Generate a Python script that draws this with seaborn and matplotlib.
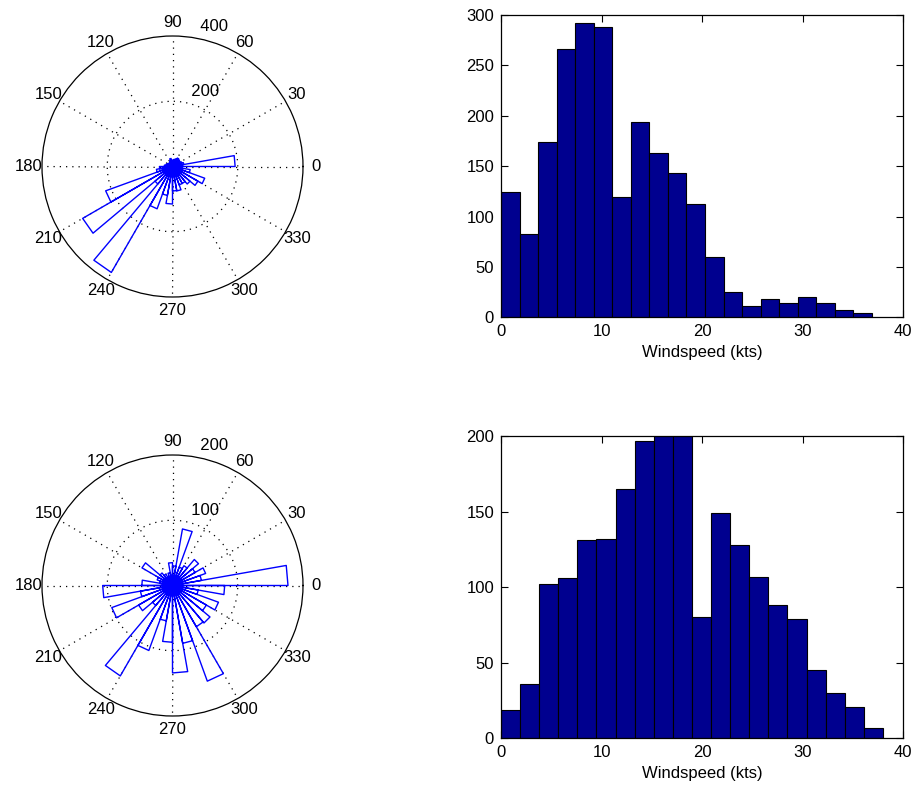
import numpy as np
import pandas as pd
import seaborn as sns
import matplotlib
matplotlib.use('Agg')
import matplotlib.pyplot as plt

sns.set_style('white')
plt.rcParams['font.family'] = ['Liberation Sans', 'DejaVu Sans']
plt.rcParams['font.size'] = 12
plt.rcParams['text.color'] = 'black'
plt.rcParams['axes.labelcolor'] = 'black'
plt.rcParams['xtick.color'] = 'black'
plt.rcParams['ytick.color'] = 'black'

# wind direction counts, 36 bins of 10 degrees starting at 0 (east), counter clockwise
rose_top_counts = [192, 35, 30, 25, 28, 30, 25, 22, 20, 15, 25, 18,
                   15, 12, 15, 18, 20, 25, 40, 50, 218, 318, 70, 375,
                   138, 90, 115, 75, 76, 60, 60, 70, 90, 105, 55, 30]
rose_bot_counts = [177, 45, 54, 40, 52, 35, 30, 88, 30, 35, 20, 15,
                   20, 25, 54, 25, 20, 47, 107, 50, 99, 60, 40, 160,
                   106, 55, 87, 134, 90, 156, 73, 75, 60, 75, 40, 80]
rose_top_rmax = 400
rose_bot_rmax = 200

# windspeed histograms, 20 bins from 0 to the max speed
hist_top_counts = [124, 83, 174, 266, 292, 288, 119, 194, 163, 143,
                   112, 60, 25, 11, 18, 14, 20, 14, 7, 4]
hist_top_max = 36.9
hist_bot_counts = [19, 36, 102, 106, 131, 132, 165, 197, 200, 200,
                   80, 149, 128, 107, 88, 79, 45, 30, 21, 7]
hist_bot_max = 38.0

W, H = 914, 789
fig = plt.figure(figsize=(W / 100, H / 100), dpi=100)


def rose(rect, counts, rmax):
    ax = fig.add_axes(rect, projection='polar')
    ax.set_facecolor('white')
    edges = np.deg2rad(np.arange(0, 361, 10))
    th, rr = [], []
    for i, c in enumerate(counts):
        th += [edges[i], edges[i], edges[i + 1], edges[i + 1]]
        rr += [0, c, c, 0]
    ax.plot(th, rr, color='blue', lw=1.0)
    ax.set_ylim(0, rmax)
    ax.set_thetagrids(np.arange(0, 360, 30), labels=[])
    ax.set_rgrids([rmax / 2], labels=[])
    ax.grid(True, color='black', linestyle=(0, (1, 4)), lw=0.9)
    ax.spines['polar'].set_color('black')
    ax.spines['polar'].set_linewidth(0.9)
    # matlab style labels
    for a in range(0, 360, 30):
        ax.text(np.deg2rad(a), 1.1 * rmax, str(a), ha='center', va='center',
                fontsize=12, clip_on=False)
    for rv in [rmax / 2, rmax]:
        ax.text(np.deg2rad(82), rv + rmax / 40, '  ' + str(int(rv)),
                ha='left', va='bottom', fontsize=12, clip_on=False)
    return ax


def hist(rect, counts, vmax, ymax):
    ax = fig.add_axes(rect)
    edges = [vmax * i / len(counts) for i in range(len(counts) + 1)]
    mids = [(edges[i] + edges[i + 1]) / 2 for i in range(len(counts))]
    df = pd.DataFrame({'speed': mids, 'n': counts})
    sns.histplot(data=df, x='speed', weights='n', bins=edges, ax=ax,
                 color='#00008F', edgecolor='black', linewidth=0.8, alpha=1)
    ax.set_xlim(0, 40)
    ax.set_ylim(0, ymax)
    ax.set_xticks([0, 10, 20, 30, 40])
    ax.set_yticks(np.arange(0, ymax + 1, 50))
    ax.set_xlabel('Windspeed (kts)')
    ax.set_ylabel('')
    for s in ax.spines.values():
        s.set_color('black')
        s.set_linewidth(0.9)
    ax.tick_params(direction='in', length=5, pad=5, top=True, right=True,
                   bottom=True, left=True, labelsize=12, color='black')
    return ax


pw, ph = 261 / W, 261 / H
rose([42 / W, 1 - 297 / H, pw, ph], rose_top_counts, rose_top_rmax)
rose([42 / W, 1 - 716 / H, pw, ph], rose_bot_counts, rose_bot_rmax)

hw, hh = 402 / W, 302.3 / H
hist([501 / W, 1 - 317.3 / H, hw, hh], hist_top_counts, hist_top_max, 300)
hist([501 / W, 1 - 738.3 / H, hw, hh], hist_bot_counts, hist_bot_max, 200)

fig.savefig('out.png', dpi=100, facecolor='white')
